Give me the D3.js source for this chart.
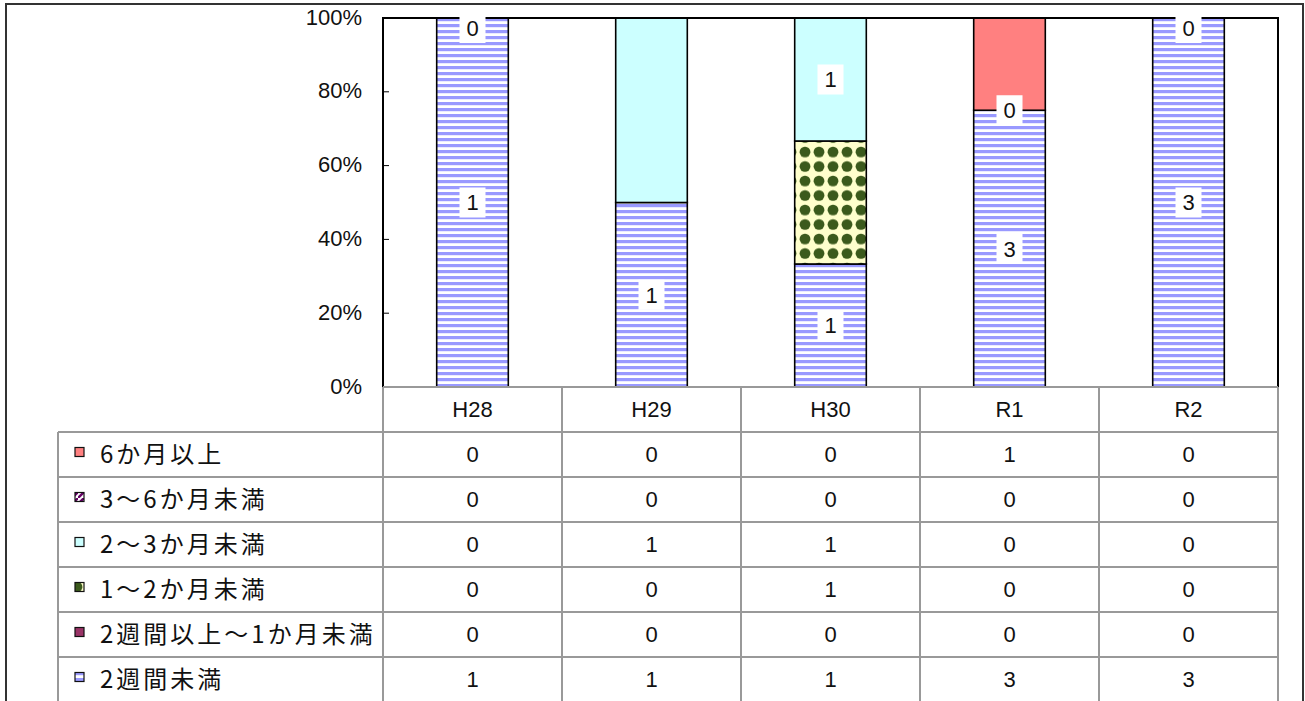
<!DOCTYPE html>
<html>
<head>
<meta charset="utf-8">
<script src="https://cdn.jsdelivr.net/npm/d3@7"></script>
<style>
  body { margin: 0; background: #fff; }
  svg { display: block; }
</style>
</head>
<body>
<svg id="chart"></svg>
<script>
// categories (fiscal years)
const categories = ["H28", "H29", "H30", "R1", "R2"];

// series, listed in table order (top row first)
const seriesNames = ["6か月以上", "3～6か月未満", "2～3か月未満", "1～2か月未満", "2週間以上～1か月未満", "2週間未満"];
const seriesValues = [
  [0, 0, 0, 1, 0],
  [0, 0, 0, 0, 0],
  [0, 1, 1, 0, 0],
  [0, 0, 1, 0, 0],
  [0, 0, 0, 0, 0],
  [1, 1, 1, 3, 3]
];
// which data labels are visible in the chart (same order)
const labelShown = [
  [0, 0, 0, 0, 0],
  [0, 0, 0, 0, 0],
  [0, 0, 1, 0, 0],
  [0, 0, 0, 0, 0],
  [1, 0, 0, 1, 1],
  [1, 1, 1, 1, 1]
];
const yTicks = [0, 0.2, 0.4, 0.6, 0.8, 1];

const width = 1305, height = 701;
const plot = { left: 383, right: 1278, top: 18, bottom: 387 };
const rowH = 45;
const tableLeft = 58;
const numFont = "'Liberation Sans', Arial, sans-serif";

const svg = d3.select("#chart").attr("width", width).attr("height", height);
const defs = svg.append("defs");

// fills
const stripes = defs.append("pattern").attr("id", "stripes")
  .attr("patternUnits", "userSpaceOnUse").attr("width", 8).attr("height", 6);
stripes.append("rect").attr("width", 8).attr("height", 6).attr("fill", "#fff");
stripes.append("rect").attr("y", 0).attr("width", 8).attr("height", 3.2).attr("fill", "#9999ff");

const dots = defs.append("pattern").attr("id", "dots")
  .attr("patternUnits", "userSpaceOnUse").attr("width", 14).attr("height", 14.5);
dots.append("rect").attr("width", 14).attr("height", 14.5).attr("fill", "#ffffcc");
dots.append("circle").attr("cx", 7).attr("cy", 7).attr("r", 5.4).attr("fill", "#3b5a1c");

const diag = defs.append("pattern").attr("id", "diag")
  .attr("patternUnits", "userSpaceOnUse").attr("width", 6).attr("height", 6);
diag.append("rect").attr("width", 6).attr("height", 6).attr("fill", "#fff");
diag.append("path").attr("d", "M0,6 L6,0").attr("stroke", "#660066").attr("stroke-width", 2.5);

const fills = ["#ff8080", "url(#diag)", "#ccffff", "url(#dots)", "#993366", "url(#stripes)"];

// outer frame
svg.append("rect")
  .attr("x", 6).attr("y", 4).attr("width", 1297).attr("height", 720)
  .attr("fill", "none").attr("stroke", "#333").attr("stroke-width", 2);

// scales
const x = d3.scaleBand().domain(categories).range([plot.left, plot.right]).padding(0);
const y = d3.scaleLinear().domain([0, 1]).range([plot.bottom, plot.top]);
const barW = x.bandwidth() * 0.4;

// stack from bottom: last series in table is bottom
const stackOrder = d3.range(seriesNames.length).reverse();
const totals = categories.map((c, j) => d3.sum(seriesValues, s => s[j]));

const segments = [];
categories.forEach((c, j) => {
  let acc = 0;
  stackOrder.forEach(i => {
    const v = seriesValues[i][j] / totals[j];
    segments.push({ cat: c, i, j, y0: acc, y1: acc + v, value: seriesValues[i][j] });
    acc += v;
  });
});

const g = svg.append("g");

g.selectAll(".seg")
  .data(segments.filter(d => d.value > 0))
  .join("rect")
  .attr("class", "seg")
  .attr("x", d => x(d.cat) + (x.bandwidth() - barW) / 2)
  .attr("width", barW)
  .attr("y", d => y(d.y1))
  .attr("height", d => y(d.y0) - y(d.y1))
  .attr("fill", d => fills[d.i])
  .attr("stroke", "#000")
  .attr("stroke-width", 1.6);

// plot frame
g.append("path")
  .attr("d", `M${plot.left},${plot.bottom} V${plot.top} H${plot.right} V${plot.bottom}`)
  .attr("fill", "none").attr("stroke", "#000").attr("stroke-width", 2);

// y axis ticks (inside) and labels
g.selectAll(".ytick")
  .data(yTicks)
  .join("line")
  .attr("x1", plot.left).attr("x2", plot.left + 6)
  .attr("y1", d => y(d)).attr("y2", d => y(d))
  .attr("stroke", "#000").attr("stroke-width", 1);

g.selectAll(".ylab")
  .data(yTicks)
  .join("text")
  .attr("x", 362)
  .attr("y", d => y(d))
  .attr("dy", "0.3em")
  .attr("text-anchor", "end")
  .attr("font-family", numFont)
  .attr("font-size", "22px")
  .attr("fill", "#111")
  .text(d3.format(".0%"));

// data labels
const labelData = segments.filter(d => labelShown[d.i][d.j]);
const lab = g.selectAll(".dlab")
  .data(labelData)
  .join("g")
  .attr("transform", d => {
    const cy = Math.max(y((d.y0 + d.y1) / 2), plot.top + 10);
    return `translate(${x(d.cat) + x.bandwidth() / 2},${cy})`;
  });
lab.append("rect")
  .attr("x", -13).attr("y", -15).attr("width", 26).attr("height", 30)
  .attr("fill", "#fff");
lab.append("text")
  .attr("text-anchor", "middle")
  .attr("dy", "0.36em")
  .attr("font-family", numFont)
  .attr("font-size", "22px")
  .attr("fill", "#111")
  .text(d => d.value);

// data table
const t = svg.append("g");
const lineColor = "#999";
const tableBottom = plot.bottom + rowH * (seriesNames.length + 1);

// horizontal lines
t.append("line")
  .attr("x1", plot.left).attr("x2", plot.right)
  .attr("y1", plot.bottom).attr("y2", plot.bottom)
  .attr("stroke", lineColor).attr("stroke-width", 2);
seriesNames.forEach((s, i) => {
  const yy = plot.bottom + rowH * (i + 1);
  t.append("line")
    .attr("x1", tableLeft).attr("x2", plot.right)
    .attr("y1", yy).attr("y2", yy)
    .attr("stroke", lineColor).attr("stroke-width", 2);
});
// vertical lines
t.append("line")
  .attr("x1", tableLeft).attr("x2", tableLeft)
  .attr("y1", plot.bottom + rowH).attr("y2", tableBottom)
  .attr("stroke", lineColor).attr("stroke-width", 2);
categories.concat([null]).forEach(c => {
  const xx = c ? x(c) : plot.right;
  t.append("line")
    .attr("x1", xx).attr("x2", xx)
    .attr("y1", plot.bottom).attr("y2", tableBottom)
    .attr("stroke", lineColor).attr("stroke-width", 2);
});

// header
t.selectAll(".cat")
  .data(categories)
  .join("text")
  .attr("x", d => x(d) + x.bandwidth() / 2)
  .attr("y", plot.bottom + rowH / 2)
  .attr("dy", "0.36em")
  .attr("text-anchor", "middle")
  .attr("font-family", numFont)
  .attr("font-size", "22px")
  .attr("fill", "#111")
  .text(d => d);

// rows
seriesNames.forEach((s, i) => {
  const cy = plot.bottom + rowH * (i + 1) + rowH / 2;
  t.append("rect")
    .attr("x", 75).attr("y", cy - 7).attr("width", 9).attr("height", 9)
    .attr("fill", fills[i]).attr("stroke", "#111").attr("stroke-width", 1.2);
  t.append("text")
    .attr("x", 100).attr("y", cy)
    .attr("dy", "0.36em")
    .attr("font-family", "'Noto Sans CJK JP', sans-serif")
    .attr("font-size", "24px")
    .attr("letter-spacing", "3px")
    .attr("fill", "#111")
    .text(s);
  t.selectAll(null)
    .data(seriesValues[i])
    .join("text")
    .attr("x", (d, j) => x(categories[j]) + x.bandwidth() / 2)
    .attr("y", cy)
    .attr("dy", "0.36em")
    .attr("text-anchor", "middle")
    .attr("font-family", numFont)
    .attr("font-size", "22px")
    .attr("fill", "#111")
    .text(d => d);
});
</script>
</body>
</html>
